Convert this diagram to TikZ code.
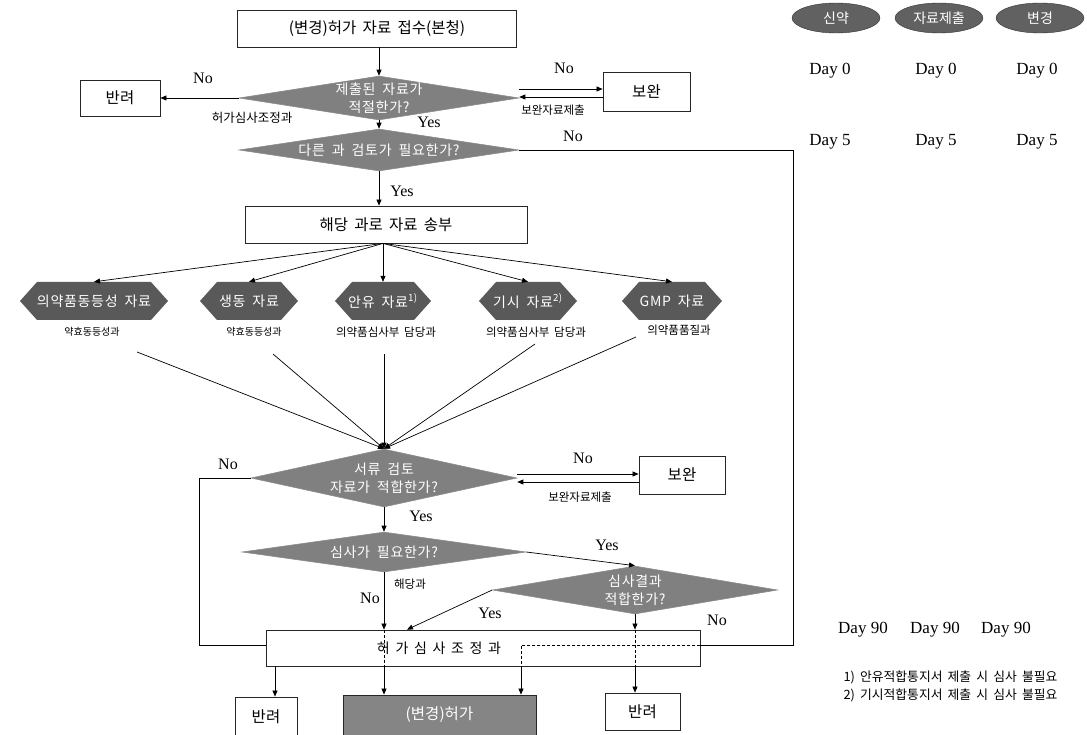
\documentclass[tikz,border=0pt]{standalone}
\usepackage{fontspec}
\setmainfont{Liberation Serif}
\newfontfamily\kr{Noto Sans CJK KR}[WordSpace=1.8]
\newfontfamily\krw{Noto Sans CJK KR}[WordSpace=1.8,LetterSpace=5]
\usetikzlibrary{shapes.geometric,arrows.meta}
\begin{document}
\begin{tikzpicture}[x=1pt,y=-1pt,
  box/.style={draw=black!85, line width=0.8pt, inner sep=0pt, font=\kr\fontsize{15.5}{18}\selectfont},
  dia/.style={diamond, draw=black!45, fill=black!50, inner sep=0pt, line width=0.6pt},
  dtxt/.style={font=\krw\fontsize{14}{18}\selectfont, text=white, align=center},
  hexnode/.style={minimum width=#1, minimum height=38pt, inner sep=0pt, text=white,
    font=\krw\fontsize{14}{16}\selectfont,
    path picture={\fill[black!65] (path picture bounding box.west)
      -- ([xshift=17pt]path picture bounding box.north west)
      -- ([xshift=-17pt]path picture bounding box.north east)
      -- (path picture bounding box.east)
      -- ([xshift=-17pt]path picture bounding box.south east)
      -- ([xshift=17pt]path picture bounding box.south west) -- cycle;}},
  ell/.style={ellipse, fill=black!62, draw=black!80, minimum width=88pt, minimum height=30pt,
    inner sep=0pt, text=white, font=\kr\fontsize{14}{16}\selectfont},
  arr/.style={-{Triangle[length=6pt,width=5pt]}, line width=0.7pt},
  ln/.style={line width=0.7pt},
  dashln/.style={line width=0.7pt, dashed, dash pattern=on 3pt off 2pt},
  yn/.style={font=\fontsize{16}{18}\selectfont},
  sm/.style={font=\kr\fontsize{10}{12}\selectfont},
  smm/.style={font=\kr\fontsize{11.5}{13}\selectfont},
  day/.style={font=\fontsize{17}{19}\selectfont},
  foot/.style={font=\kr\fontsize{12.8}{15}\selectfont, anchor=west}
]
\useasboundingbox (0,0) rectangle (1087,735);

% helper coordinates
\coordinate (bbmid) at (0,645);
\coordinate (rt) at (793,0);
\coordinate (lft) at (199,0);
\coordinate (yx) at (407,0);
\coordinate (rx) at (275,0);
\coordinate (dx) at (521,0);

% top
\node[box, minimum width=279pt, minimum height=37pt] (top) at (377,28.5) {(변경)허가 자료 접수(본청)};

\node[dia, minimum width=280pt, minimum height=44pt] (d1) at (379,98) {};
\node[dtxt] (d1t) at (d1) {제출된 자료가\\적절한가?};
\draw[arr] (top.south -| d1.north) -- (d1.north);

\node[box, minimum width=80pt, minimum height=36pt] (rej0) at (120,98) {반려};
\draw[arr] (d1.west) -- (rej0.east);
\node[yn] (no1) at (203,78) {No};
\node[smm, font=\kr\fontsize{12.5}{14}\selectfont] (l1) at (252,118) {허가심사조정과};

\node[box, minimum width=87pt, minimum height=39pt] (sup1) at (646.5,91.5) {보완};
\coordinate (d1a) at ([yshift=9pt]d1.east);
\coordinate (d1b) at ([yshift=1pt]d1.east);
\draw[arr] (d1a) -- (d1a -| sup1.west);
\draw[arr] (d1b -| sup1.west) -- (d1b);
\node[yn] (no2) at (564,68) {No};
\node[smm] (l2) at (553,110) {보완자료제출};

\node[dia, minimum width=280pt, minimum height=42pt] (d2) at (379,150) {};
\node[dtxt] (d2t) at (d2) {다른 과 검토가 필요한가?};
\draw[arr] (d1.south) -- (d2.north);
\node[yn] (yes1) at (429,122) {Yes};
\node[yn] (no3) at (573,136) {No};

\node[box, minimum width=282pt, minimum height=37pt] (send) at (386,224.5) {해당 과로 자료 송부};
\draw[arr] (d2.south) -- (d2.south |- send.north);
\node[yn] (yes2) at (402,191) {Yes};

% hexagons
\node[hexnode=148pt] (h1) at (94,301) {의약품동등성 자료};
\node[hexnode=98pt] (h2) at (249,301) {생동 자료};
\node[hexnode=96pt] (h3) at (383,301) {안유 자료\textsuperscript{1)}};
\node[hexnode=98pt] (h4) at (528,301) {기시 자료\textsuperscript{2)}};
\node[hexnode=100pt] (h5) at (672,301) {GMP 자료};
\foreach \h in {h1,h2,h3,h4,h5} \draw[arr] (send.south -| h3.north) -- (\h.north);

\node[sm] (g1) at (92,332) {약효동등성과};
\node[sm] (g2) at (254,332) {약효동등성과};
\node[smm] (g3) at (386,332) {의약품심사부 담당과};
\node[smm] (g4) at (536,332) {의약품심사부 담당과};
\node[smm] (g5) at (679,330) {의약품품질과};

% diamond 3
\node[dia, minimum width=266pt, minimum height=58pt] (d3) at (384,478) {};
\node[dtxt] (d3t) at (d3) {서류 검토\\자료가 적합한가?};
\coordinate (c1) at (137,352);
\coordinate (c2) at (273,354);
\coordinate (c3) at (384,354);
\coordinate (c4) at (535,344);
\coordinate (c5) at (636,337);
\foreach \c in {c1,c2,c3,c4,c5} \draw[arr] (\c) -- (d3.north);

\node[yn] (no4) at (228,464) {No};

\node[box, minimum width=86pt, minimum height=38pt] (sup2) at (682,475) {보완};
\coordinate (d3a) at ([yshift=4pt]d3.east);
\coordinate (d3b) at ([yshift=-4pt]d3.east);
\draw[arr] (d3a) -- (d3a -| sup2.west);
\draw[arr] (d3b -| sup2.west) -- (d3b);
\node[yn] (no5) at (583,458) {No};
\node[smm] (l3) at (580,497) {보완자료제출};

% diamond 4
\node[dia, minimum width=284pt, minimum height=40pt] (d4) at (384,552) {};
\node[dtxt] (d4t) at (d4) {심사가 필요한가?};
\draw[arr] (d3.south) -- (d4.north);
\node[yn] (yes3) at (421,516) {Yes};

% diamond 5
\node[dia, minimum width=285pt, minimum height=48pt] (d5) at (635,590) {};
\node[dtxt] (d5t) at (d5) {심사결과\\적합한가?};
\draw[arr] (d4.east) -- (d5.north);
\node[yn] (yes4) at (607,545) {Yes};
\node[yn] (no6) at (717,620) {No};

\node[smm] (l4) at (410,584) {해당과};
\node[yn] (no7) at (370,598) {No};

% bottom box
\node[box, minimum width=434pt, minimum height=36pt] (bb) at (483,648) {};
\node[font=\kr\fontsize{14}{16}\selectfont] (bbt) at (439,648) {허 가 심 사 조 정 과};

\draw[ln] (d3.west) -- (d3.west -| lft) -- (lft |- bbmid) -- (bbmid -| bb.west);

\draw[arr] (d5.west) -- (yx |- bb.north);
\node[yn] (yes5) at (490,613) {Yes};

\node[box, fill=black!48, text=white, minimum width=193pt, minimum height=40pt] (ok) at (439.5,715) {(변경)허가};
\node[box, minimum width=62pt, minimum height=40pt] (rej1) at (266,717) {반려};
\node[box, minimum width=75pt, minimum height=37pt] (rej2) at (642.5,711.5) {반려};

\draw[arr] (d4.south) -- (d4.south |- bb.north);
\draw[dashln] (d4.south |- bb.north) -- (d4.south |- bb.south);
\draw[arr] (d4.south |- bb.south) -- (d4.south |- ok.north);

\draw[arr] (d5.south) -- (d5.south |- bb.north);
\draw[dashln] (d5.south |- bb.north) -- (d5.south |- bb.south);
\draw[arr] (d5.south |- bb.south) -- (d5.south |- rej2.north);

\draw[arr] (rx |- bb.south) -- (rx |- rej1.north);

\draw[ln] (d2.east) -- (d2.east -| rt) -- (rt |- bbmid) -- (bbmid -| bb.east);
\draw[dashln] (bbmid -| bb.east) -- (bbmid -| dx) -- (dx |- bb.south);
\draw[arr] (dx |- bb.south) -- (dx |- ok.north);

% right side legend
\node[ell] (e1) at (836,18) {신약};
\node[ell] (e2) at (939,18) {자료제출};
\node[ell] (e3) at (1040,18) {변경};
\node[day] (a1) at (830,71) {Day 0};
\node[day] (a2) at (936,71) {Day 0};
\node[day] (a3) at (1037,71) {Day 0};
\node[day] (b1) at (830,142) {Day 5};
\node[day] (b2) at (936,142) {Day 5};
\node[day] (b3) at (1037,142) {Day 5};
\node[day] (c91) at (863,630) {Day 90};
\node[day] (c92) at (935,630) {Day 90};
\node[day] (c93) at (1006,630) {Day 90};
\node[foot] (f1) at (840,677) {1) 안유적합통지서 제출 시 심사 불필요};
\node[foot] (f2) at (840,695) {2) 기시적합통지서 제출 시 심사 불필요};
\end{tikzpicture}
\end{document}
